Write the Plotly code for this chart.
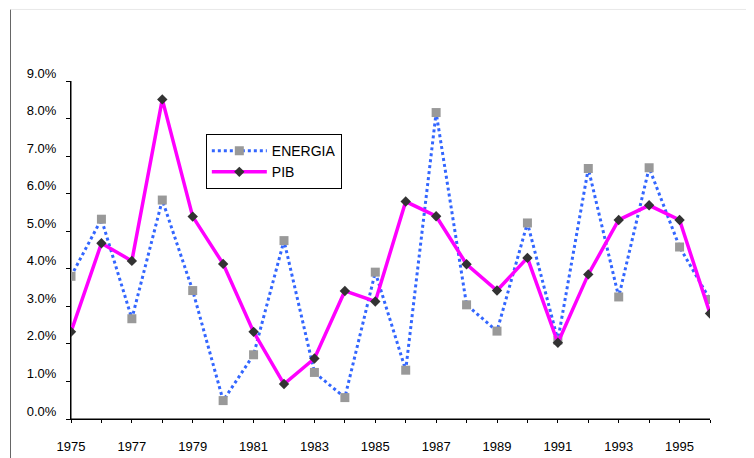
import plotly.graph_objects as go

years = list(range(1975, 1997))
energia = [3.80, 5.32, 2.67, 5.83, 3.42, 0.49, 1.71, 4.75, 1.24, 0.57, 3.91,
           1.30, 8.16, 3.04, 2.34, 5.22, 2.10, 6.67, 3.25, 6.69, 4.58, 3.18]
pib = [2.32, 4.68, 4.21, 8.51, 5.39, 4.13, 2.32, 0.93, 1.61, 3.41, 3.13,
       5.79, 5.40, 4.12, 3.42, 4.29, 2.03, 3.85, 5.30, 5.69, 5.30, 2.81]
y_ticks = [0, 1, 2, 3, 4, 5, 6, 7, 8, 9]
y_labels = ["0.0%", "1.0%", "2.0%", "3.0%", "4.0%", "5.0%", "6.0%", "7.0%", "8.0%", "9.0%"]
x_ticks = list(range(1975, 1997, 2))

font = "Liberation Sans, Arial, sans-serif"

fig = go.Figure()
fig.add_trace(go.Scatter(
    x=years, y=energia, name="ENERGIA", mode="lines+markers",
    line=dict(color="#3366FF", width=3, dash="dot"),
    marker=dict(symbol="square", size=9, color="#999999"),
))
fig.add_trace(go.Scatter(
    x=years, y=pib, name="PIB", mode="lines+markers",
    line=dict(color="#FF00FF", width=3.5),
    marker=dict(symbol="diamond", size=8, color="#333333"),
))

# the page body adds 8px, so margins are set 8px smaller at left/top
fig.update_layout(
    width=754, height=458,
    margin=dict(l=63, r=52, t=73, b=45),
    paper_bgcolor="white", plot_bgcolor="white",
    font=dict(family=font, size=13, color="black"),
    showlegend=True,
    legend=dict(
        x=0.211, y=0.843, xanchor="left", yanchor="top",
        bordercolor="black", borderwidth=1, bgcolor="white",
        font=dict(family=font, size=14, color="black"),
        itemwidth=55, tracegroupgap=0,
    ),
    xaxis=dict(
        range=[1975, 1996], tickvals=x_ticks, ticktext=[str(v) for v in x_ticks],
        ticks="outside", ticklen=3, tickcolor="black",
        minor=dict(tickvals=years, ticks="outside", ticklen=3, tickcolor="black"),
        showline=True, linecolor="black", linewidth=1,
        showgrid=False, zeroline=False, ticklabelstandoff=12,
    ),
    yaxis=dict(
        range=[0, 9], tickvals=y_ticks, ticktext=y_labels,
        ticks="outside", ticklen=4, tickcolor="black",
        showline=True, linecolor="black", linewidth=1,
        showgrid=False, zeroline=False, ticklabelshift=-8, ticklabelstandoff=7,
    ),
    xaxis2=dict(
        overlaying="x", anchor="y", side="bottom", range=[1975, 1996],
        tickvals=years, ticks="inside", ticklen=3, tickcolor="black",
        showticklabels=False, showline=False, showgrid=False, zeroline=False,
    ),
    yaxis2=dict(
        overlaying="y", anchor="x", side="left", range=[0, 9],
        tickvals=y_ticks, ticks="inside", ticklen=3, tickcolor="black",
        showticklabels=False, showline=False, showgrid=False, zeroline=False,
    ),
)

# axis lines again, in case the axis line is lost under the overlay axes
fig.add_shape(type="line", xref="paper", yref="paper", x0=0, x1=1, y0=0, y1=0,
              line=dict(color="black", width=1), layer="below")
fig.add_shape(type="line", xref="paper", yref="paper", x0=0, x1=0, y0=0, y1=1,
              line=dict(color="black", width=1), layer="below")

# the chart-area border, partly visible at left and top
fig.add_shape(type="line", xref="paper", yref="paper",
              x0=-60.5 / 639, x1=-60.5 / 639, y0=412 / 340, y1=-45 / 340,
              line=dict(color="#666666", width=1))
fig.add_shape(type="line", xref="paper", yref="paper",
              x0=-60.5 / 639, x1=691 / 639, y0=412 / 340, y1=412 / 340,
              line=dict(color="#e8e8e8", width=1))

fig.write_html("out.html")
